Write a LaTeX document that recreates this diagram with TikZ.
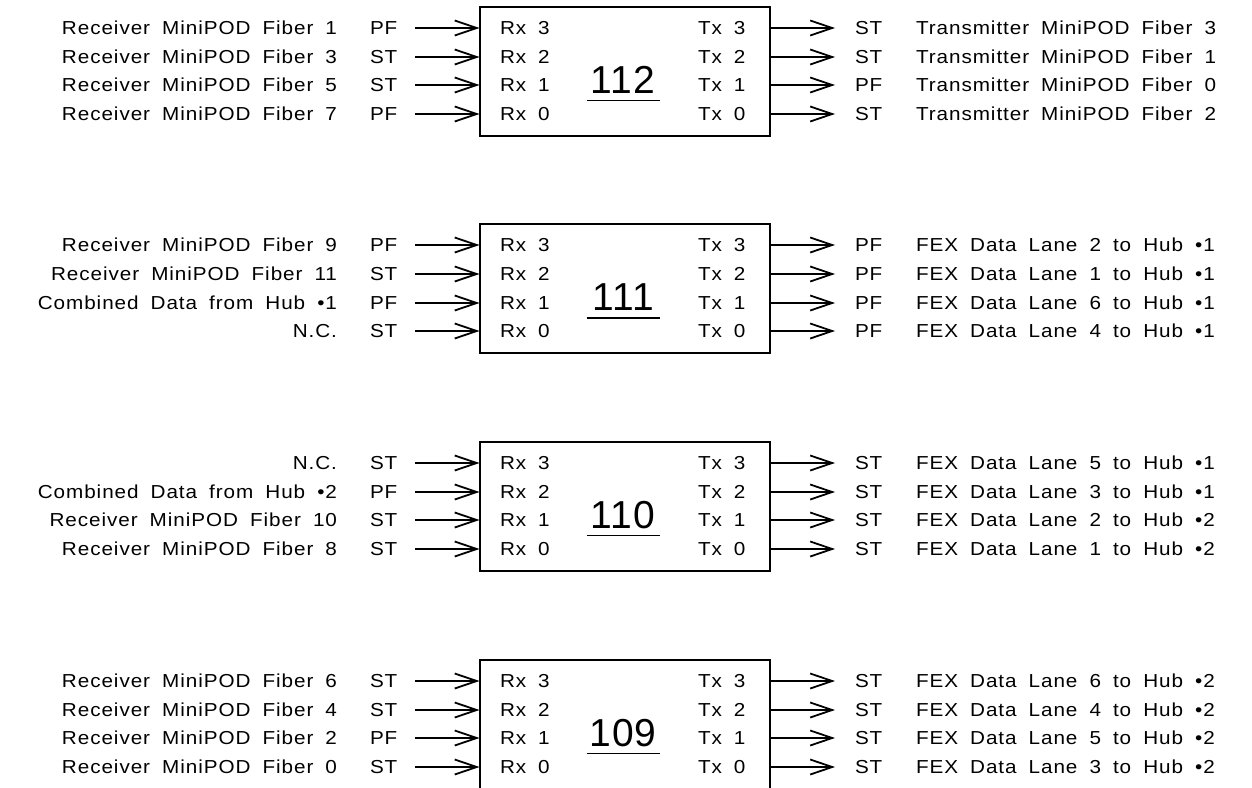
\documentclass[tikz,border=0pt]{standalone}
\usepackage{fontspec}
\setmainfont{Liberation Sans}
\newfontfamily\cadfont[FakeStretch=1.1,LetterSpace=5,WordSpace=1.8]{Liberation Sans}
\newfontfamily\cadnumfont[LetterSpace=3]{Liberation Sans}
\usetikzlibrary{arrows.meta}
\tikzset{
  lab/.style={font={\cadfont\fontsize{18.8pt}{22pt}\selectfont}, inner sep=0pt, outer sep=0pt, text height=13.5pt, text depth=0pt},
  chipbox/.style={draw, line width=2pt, minimum width=290pt, minimum height=129pt, inner sep=0pt, outer sep=0pt},
  bignum/.style={font={\cadnumfont\fontsize{39pt}{44pt}\selectfont}, inner sep=0pt, outer sep=0pt, minimum width=73pt, text depth=7.4pt, anchor=base},
  arr/.style={line width=2pt, -{Straight Barb[length=22pt,width=15pt,line width=1.8pt]}},
  uline/.style={line width=1.6pt}
}
\newcommand\cadblock[3]{%
  \node[chipbox] (b#1) at (624.5,#2+64.5) {};
  \node[bignum] (n#1) at (623,#2+86.6) {#1};
  \draw[uline] (n#1.south west) -- (n#1.south east);
  \foreach \i/\inl/\intype/\outtype/\outl in {#3} {
    \pgfmathsetmacro\ry{round(#2+21.3+28.7*\i)}
    \pgfmathtruncatemacro\rn{3-\i}
    \node[lab,anchor=east] (in#1-\i) at (337,\ry) {\inl};
    \node[lab,anchor=west] (it#1-\i) at (370,\ry) {\intype};
    \coordinate (s#1-\i) at (415,\ry);
    \draw[arr] (s#1-\i) -- (s#1-\i -| b#1.west);
    \node[lab,anchor=west] (rx#1-\i) at (500,\ry) {Rx \rn};
    \node[lab,anchor=west] (tx#1-\i) at (698,\ry) {Tx \rn};
    \coordinate (e#1-\i) at (835,\ry);
    \draw[arr] (e#1-\i -| b#1.east) -- (e#1-\i);
    \node[lab,anchor=west] (ot#1-\i) at (855,\ry) {\outtype};
    \node[lab,anchor=west] (ol#1-\i) at (916,\ry) {\outl};
  }%
}
\begin{document}
\begin{tikzpicture}[x=1pt,y=-1pt]
\useasboundingbox (0,0) rectangle (1252,787);
\cadblock{112}{6.5}{0/Receiver MiniPOD Fiber 1/PF/ST/Transmitter MiniPOD Fiber 3,
  1/Receiver MiniPOD Fiber 3/ST/ST/Transmitter MiniPOD Fiber 1,
  2/Receiver MiniPOD Fiber 5/ST/PF/Transmitter MiniPOD Fiber 0,
  3/Receiver MiniPOD Fiber 7/PF/ST/Transmitter MiniPOD Fiber 2}
\cadblock{111}{224}{0/Receiver MiniPOD Fiber 9/PF/PF/FEX Data Lane 2 to Hub •1,
  1/Receiver MiniPOD Fiber 11/ST/PF/FEX Data Lane 1 to Hub •1,
  2/Combined Data from Hub •1/PF/PF/FEX Data Lane 6 to Hub •1,
  3/N.C./ST/PF/FEX Data Lane 4 to Hub •1}
\cadblock{110}{441.5}{0/N.C./ST/ST/FEX Data Lane 5 to Hub •1,
  1/Combined Data from Hub •2/PF/ST/FEX Data Lane 3 to Hub •1,
  2/Receiver MiniPOD Fiber 10/ST/ST/FEX Data Lane 2 to Hub •2,
  3/Receiver MiniPOD Fiber 8/ST/ST/FEX Data Lane 1 to Hub •2}
\cadblock{109}{659.5}{0/Receiver MiniPOD Fiber 6/ST/ST/FEX Data Lane 6 to Hub •2,
  1/Receiver MiniPOD Fiber 4/ST/ST/FEX Data Lane 4 to Hub •2,
  2/Receiver MiniPOD Fiber 2/PF/ST/FEX Data Lane 5 to Hub •2,
  3/Receiver MiniPOD Fiber 0/ST/ST/FEX Data Lane 3 to Hub •2}
\end{tikzpicture}
\end{document}
